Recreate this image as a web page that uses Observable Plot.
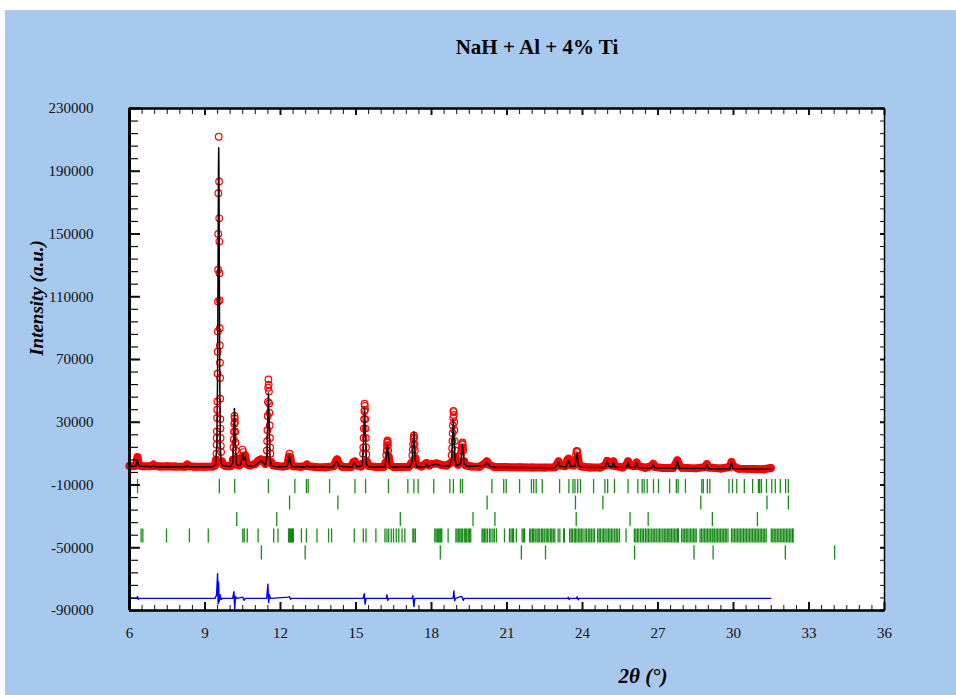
<!DOCTYPE html>
<html>
<head>
<meta charset="utf-8">
<script src="https://cdn.jsdelivr.net/npm/d3@7"></script>
<script src="https://cdn.jsdelivr.net/npm/@observablehq/plot@0.6"></script>
<style>
  html, body { margin: 0; padding: 0; background: #ffffff; }
  #wrap { position: relative; width: 956px; height: 695px; overflow: hidden; }
  #chart { position: absolute; left: 0; top: 0; }
  .lbl { position: absolute; font-family: "Liberation Serif", "DejaVu Serif", serif; color: #000; white-space: nowrap; line-height: 1; }
  #title { left: 537px; top: 37px; transform: translateX(-50%); font-weight: bold; font-size: 21px; }
  #ylab { left: 36px; top: 298px; transform: translate(-50%, -50%) rotate(-90deg); font-weight: bold; font-style: italic; font-size: 19px; }
  #xlab { left: 643px; top: 676px; transform: translate(-50%, -50%); font-weight: bold; font-style: italic; font-size: 21px; }
  #wtop { position: absolute; left: 0; top: 0; width: 956px; height: 10px; background: #fff; }
  #wleft { position: absolute; left: 0; top: 0; width: 5px; height: 695px; background: #fff; }
</style>
</head>
<body>
<div id="wrap">
  <div id="chart"></div>
  <div id="wtop"></div>
  <div id="wleft"></div>
  <div class="lbl" id="title">NaH + Al + 4% Ti</div>
  <div class="lbl" id="ylab">Intensity (a.u.)</div>
  <div class="lbl" id="xlab">2θ (°)</div>
</div>
<script>
// ---------- axis ticks ----------
const xTickLabels = [6, 9, 12, 15, 18, 21, 24, 27, 30, 33, 36];
const yTickLabels = [230000, 190000, 150000, 110000, 70000, 30000, -10000, -50000, -90000];

// ---------- observed profile [2θ, counts] ----------
const observed = [
  [6.0,2200],[6.1,2000],[6.2,2100],[6.26,3000],[6.29,5500],[6.32,7800],[6.35,5000],[6.39,2500],
  [6.5,2000],[6.8,1900],[6.92,2400],[6.95,3000],[6.98,2200],[7.2,1800],[7.5,2000],[7.8,1800],
  [8.2,1700],[8.27,2600],[8.3,3000],[8.34,1900],[8.6,1700],[9.0,1700],[9.3,1800],[9.4,2500],
  [9.44,6000],[9.455,10000],[9.46,15700],[9.465,20000],[9.47,24200],[9.48,32700],[9.485,38000],
  [9.49,43300],[9.5,61000],[9.505,75000],[9.51,87900],[9.515,107000],[9.52,127200],[9.525,150000],
  [9.53,176000],[9.545,212000],[9.56,183500],[9.565,160000],[9.57,145200],[9.575,125000],
  [9.58,107700],[9.585,90000],[9.59,79000],[9.595,68000],[9.6,58200],[9.605,45000],[9.61,32000],
  [9.615,26000],[9.62,20000],[9.63,15000],[9.64,11000],[9.67,5000],[9.72,3000],
  [9.8,2200],[9.9,2000],[10.0,2000],[10.08,2600],[10.11,6000],[10.13,14000],[10.14,19000],
  [10.15,24000],[10.16,29000],[10.17,34000],[10.18,32500],[10.19,30000],[10.2,24000],[10.21,17000],
  [10.22,12000],[10.24,7000],[10.28,3000],[10.35,2500],[10.42,3500],
  [10.46,7500],[10.49,12600],[10.52,11000],[10.55,7000],[10.58,9000],[10.6,8500],[10.63,5000],
  [10.68,3000],[10.8,2500],[11.0,3500],[11.12,5500],[11.22,6300],[11.32,5000],[11.4,3500],
  [11.44,6000],[11.46,12000],[11.47,18000],[11.48,25000],[11.49,34000],[11.5,43000],[11.51,52000],
  [11.52,57300],[11.53,54000],[11.54,49600],[11.55,42000],[11.56,36000],[11.57,28000],
  [11.58,20000],[11.59,14000],[11.6,10000],[11.63,4500],[11.7,2600],[11.9,2000],[12.1,1800],[12.25,2200],
  [12.3,4500],[12.33,8000],[12.36,10000],[12.39,7500],[12.43,3500],[12.5,2000],[12.8,1600],
  [13.0,2200],[13.05,3000],[13.1,2000],[13.4,1500],[13.8,1300],[14.1,2000],[14.2,5000],
  [14.25,6300],[14.32,3500],[14.45,1600],[14.8,1500],[14.9,4500],[14.95,5000],[15.02,2500],
  [15.2,1800],[15.25,3500],[15.28,10000],[15.29,14000],[15.3,20000],[15.31,26000],[15.32,32000],
  [15.33,37000],[15.34,41800],[15.35,40500],[15.36,38000],[15.37,32000],[15.38,26000],[15.39,20000],
  [15.4,14000],[15.41,9500],[15.43,5000],[15.5,2200],[15.8,1500],[16.1,1600],[16.17,4000],
  [16.2,9000],[16.22,12000],[16.23,15000],[16.24,17000],[16.25,18400],[16.26,17500],[16.27,15500],
  [16.28,12000],[16.3,8000],[16.34,3000],[16.5,1500],
  [16.8,1400],[17.1,1600],[17.2,4000],[17.24,9000],[17.26,12500],[17.27,16000],[17.29,19500],
  [17.3,21600],[17.31,20500],[17.33,16000],[17.34,12000],
  [17.36,7000],[17.4,3000],[17.6,1800],[17.8,4000],[17.9,2500],[18.0,3300],[18.2,3800],
  [18.4,2800],[18.6,2400],[18.75,4000],[18.8,9000],[18.82,13500],[18.83,18000],[18.84,23000],
  [18.85,28000],[18.86,33000],[18.87,37300],[18.88,36500],[18.89,34700],[18.9,30000],[18.91,25000],
  [18.92,18000],[18.94,12000],[18.95,8000],[18.97,5000],[19.05,3000],[19.12,4000],[19.17,9000],
  [19.19,11500],[19.2,14000],[19.22,16000],[19.23,17100],[19.24,16000],[19.25,14000],[19.26,12000],
  [19.3,5000],[19.36,2500],[19.6,1800],[19.9,1700],
  [20.1,3500],[20.2,5000],[20.28,3000],[20.5,1500],[21.0,1400],[21.5,1300],[22.0,1200],
  [22.5,1100],[22.9,1300],[23.0,3500],[23.05,5000],[23.1,2500],[23.3,2000],[23.4,6000],
  [23.44,6700],[23.5,2800],[23.65,2500],[23.72,6000],[23.74,9000],[23.76,11400],[23.78,11800],
  [23.8,11000],[23.82,8000],[23.85,4000],
  [23.95,1800],[24.3,1200],[24.7,1100],[24.9,2500],[24.98,5400],[25.05,3500],[25.15,2500],
  [25.23,5000],[25.3,2000],[25.6,1200],[25.75,3000],[25.81,5000],[25.87,2500],[26.05,2000],
  [26.15,4300],[26.22,2000],[26.5,1000],[26.75,2200],[26.81,3500],[26.88,1500],[27.2,800],
  [27.6,900],[27.7,3500],[27.77,5700],[27.83,3000],[27.95,1000],[28.5,600],[28.88,1500],
  [28.94,3300],[29.0,1200],[29.5,500],[29.85,1500],[29.92,4600],[29.99,2000],[30.2,400],
  [30.8,200],[31.2,0],[31.48,800]
];

// ---------- calculated profile [2θ, counts] ----------
const calculated = [
  [6.0,1800],[6.25,2000],[6.3,4500],[6.32,5500],[6.34,4000],[6.4,1900],[6.9,1700],[6.95,2500],
  [7.0,1700],[8.25,1600],[8.3,2500],[8.35,1600],[9.3,1600],[9.42,3000],[9.47,15000],[9.5,60000],
  [9.52,130000],[9.535,190000],[9.545,205000],[9.555,185000],[9.57,120000],[9.59,50000],
  [9.61,15000],[9.64,4000],[9.7,2200],[10.0,1700],[10.1,4000],[10.14,20000],[10.17,38700],
  [10.2,18000],[10.24,4000],[10.3,2000],[10.42,3000],[10.47,8000],[10.5,10000],[10.53,6000],
  [10.57,7000],[10.6,8000],[10.63,3500],[10.7,2000],[11.0,2500],[11.15,4500],[11.22,5500],
  [11.3,4500],[11.4,2500],[11.46,8000],[11.49,30000],[11.52,48600],[11.55,30000],[11.58,8000],
  [11.62,2500],[11.8,1600],[12.25,1800],[12.3,4000],[12.35,8500],[12.4,4000],[12.45,1800],
  [13.0,1400],[13.05,2500],[13.1,1400],[14.1,1500],[14.2,4500],[14.25,5000],[14.32,2000],
  [14.85,1400],[14.92,4200],[14.97,3500],[15.03,1500],[15.25,2500],[15.3,18000],[15.34,39000],
  [15.38,18000],[15.42,3000],[15.5,1500],[16.15,1500],[16.2,7000],[16.25,15700],[16.3,7000],
  [16.35,1500],[17.15,1400],[17.23,5000],[17.3,24000],[17.36,5000],[17.42,1500],[17.75,1600],
  [17.8,3500],[17.85,1600],[18.0,2800],[18.2,3200],[18.4,2300],[18.7,2000],[18.8,6000],
  [18.87,31600],[18.93,6000],[19.0,2300],[19.15,3500],[19.23,15600],[19.3,3500],[19.4,1800],
  [20.1,2500],[20.2,4200],[20.3,2000],[20.6,1200],[22.9,1000],[23.0,3000],[23.05,4500],
  [23.1,2000],[23.35,1500],[23.44,6000],[23.52,2000],[23.7,2000],[23.78,10300],[23.84,2500],
  [23.95,1300],[24.9,1200],[24.98,5000],[25.05,1800],[25.18,1500],[25.23,4500],[25.3,1300],
  [25.75,1200],[25.81,4500],[25.87,1200],[26.1,1200],[26.15,4000],[26.22,1000],[26.75,900],
  [26.81,3200],[26.87,800],[27.7,700],[27.77,5300],[27.84,700],[28.88,500],[28.94,3000],
  [29.0,400],[29.85,400],[29.92,4300],[29.99,300],[31.48,0]
];

// ---------- difference curve (offset) [2θ, counts] ----------
const difference = [
  [6.0,-82300],[6.3,-82300],[6.32,-81000],[6.35,-82800],[6.4,-82300],[9.4,-82300],[9.46,-80000],
  [9.5,-66500],[9.52,-85800],[9.54,-72000],[9.56,-84500],[9.6,-80000],[9.64,-83000],[9.7,-82300],
  [10.1,-82300],[10.15,-78000],[10.18,-89000],[10.21,-81000],[10.26,-82300],[10.5,-81500],
  [10.55,-83500],[10.6,-82300],[11.45,-82300],[11.5,-73300],[11.53,-85000],[11.56,-80000],
  [11.6,-82300],[12.33,-81500],[12.36,-81200],[12.4,-82800],[12.45,-82300],[15.28,-82300],
  [15.33,-79300],[15.36,-86000],[15.4,-82300],[16.2,-82300],[16.23,-80000],[16.26,-83600],
  [16.3,-82300],[17.23,-82300],[17.26,-80500],[17.3,-87500],[17.34,-82300],[18.84,-82300],
  [18.87,-81000],[18.89,-77500],[18.92,-83800],[18.95,-82300],[19.18,-81000],[19.22,-81600],
  [19.26,-83500],[19.3,-82300],[23.4,-82300],[23.44,-81600],[23.47,-83000],[23.5,-82300],
  [23.76,-82300],[23.79,-81300],[23.83,-83200],[23.86,-82300],[31.48,-82300]
];

// ---------- Bragg reflection positions (2θ), one array per phase ----------
const phase1 = [6.32,9.57,10.18,11.52,12.57,13.03,13.1,13.95,14.96,15.38,16.29,17.06,17.3,17.47,
  18.09,18.73,18.87,19.15,19.23,20.4,20.87,20.97,21.5,21.97,22.06,22.16,22.4,23.09,23.46,23.62,
  23.7,23.81,23.92,24.44,24.89,25.0,25.27,25.81,26.2,26.37,26.45,26.57,26.82,27.02,27.46,27.73,
  27.8,28.09,28.74,28.8,28.96,29.06,29.82,29.96,30.13,30.43,30.76,30.99,31.04,31.11,31.31,31.52,
  31.66,31.86,32.07,32.18];
const phase2 = [12.36,14.28,20.21,23.72,24.81,28.7,31.33,32.18];
const phase3 = [10.26,11.85,16.76,19.65,20.52,23.75,25.89,26.61,29.16,30.95];
const phase4 = [6.46,6.53,7.47,8.38,9.13,10.5,10.56,10.68,11.11,11.73,11.9,12.32,12.36,12.4,12.44,
  12.48,12.51,12.83,13.03,13.45,13.91,14.03,14.93,15.29,15.4,15.79,16.15,16.23,16.3,16.4,16.49,
  16.6,16.7,16.83,16.94,17.26,17.3,17.36,18.13,18.18,18.23,18.28,18.33,18.37,18.41,18.66,18.97,
  19.02,19.08,19.13,19.18,19.23,19.3,19.35,19.4,19.46,19.51,19.56,20.01,20.05,20.1,20.16,20.22,
  20.3,20.36,20.44,20.5,20.58,20.9,21.1,21.16,21.22,21.26,21.37,21.6,21.66,21.7,
  21.9,21.95,22.01,22.06,22.12,22.19,22.24,22.3,22.37,22.42,22.48,22.55,22.6,22.66,22.73,22.78,
  22.84,22.9,23.03,23.1,23.25,23.28,23.49,23.55,23.6,23.67,23.72,23.78,23.85,23.9,23.96,24.02,
  24.1,24.16,24.23,24.29,24.35,24.42,24.48,24.6,24.66,24.71,24.78,24.84,24.9,24.97,25.03,25.09,
  25.15,25.21,25.28,25.34,25.4,25.47,25.73,26.06,26.12,26.18,26.24,26.31,26.37,26.43,26.5,26.56,
  26.62,26.68,26.75,26.81,26.87,26.93,27.0,27.06,27.12,27.19,27.25,27.31,27.37,27.43,27.48,
  27.54,27.6,27.66,27.72,27.78,27.81,27.94,28.0,28.06,28.12,28.16,28.23,28.29,28.35,28.41,28.47,
  28.52,28.67,28.73,28.79,28.85,28.91,28.97,29.03,29.09,29.15,29.19,29.25,29.31,29.37,29.43,
  29.49,29.55,29.61,29.67,29.71,29.78,29.92,29.98,30.04,30.1,30.16,30.22,30.28,30.34,30.4,30.46,
  30.52,30.58,30.64,30.7,30.76,30.82,30.88,30.94,31.0,31.06,31.12,31.18,31.24,31.3,31.5,31.56,
  31.62,31.68,31.74,31.8,31.86,31.92,31.98,32.04,32.1,32.16,32.22,32.28,32.34,32.37];
const phase5 = [11.24,12.98,18.35,21.57,22.53,26.07,28.43,29.19,32.06,34.02];
const phaseRowY = [-11000, -21500, -32000, -42500, -53300];
const tickHalf = 4500;

// ---------- build ----------
const phases = [phase1, phase2, phase3, phase4, phase5];
const bragg = phases.flatMap((arr, i) => arr.map(x => ({x, row: i})));

const xMinor = d3.range(6, 36.001, 0.5);
const yMinor = d3.range(-90000, 230001, 8000);

const font = '"Liberation Serif", "DejaVu Serif", serif';

const plot = Plot.plot({
  width: 956,
  height: 695,
  marginLeft: 129,
  marginRight: 72,
  marginTop: 108,
  marginBottom: 85,
  style: { background: "#a7c9ee", fontFamily: font, fontSize: "15px", color: "#111", overflow: "visible" },
  x: { domain: [6, 36] },
  y: { domain: [-90000, 230000] },
  marks: [
    Plot.frame({ fill: "white", stroke: "none" }),
    // Bragg ticks
    Plot.ruleX(bragg, {
      x: "x",
      y1: d => phaseRowY[d.row] - tickHalf,
      y2: d => phaseRowY[d.row] + tickHalf,
      stroke: "#008000",
      strokeWidth: 1.3,
      strokeOpacity: 0.9
    }),
    // observed: thick band along the base
    Plot.line(observed, {
      x: d => d[0],
      y: d => (d[1] < 9000 ? d[1] : NaN),
      stroke: "#ff0000",
      strokeWidth: 8,
      strokeLinejoin: "round",
      strokeLinecap: "round"
    }),
    // observed: circles
    Plot.dot(observed, { x: d => d[0], y: d => d[1], r: 3.3, stroke: "#ff0000", strokeWidth: 1.2, fill: "none" }),
    // calculated
    Plot.line(calculated, { x: d => d[0], y: d => d[1], stroke: "#000", strokeWidth: 1.5 }),
    // difference
    Plot.line(difference, { x: d => d[0], y: d => d[1], stroke: "#0000ff", strokeWidth: 1.4 }),
    // axes: labels
    Plot.axisY(yTickLabels, { anchor: "left", tickSize: 0, tickPadding: 36, tickFormat: d => String(d), fontSize: 15, label: null }),
    Plot.axisX(xTickLabels, { anchor: "bottom", tickSize: 0, tickPadding: 17, tickFormat: d => String(d), fontSize: 15, label: null }),
    // inward ticks
    Plot.axisY(yMinor, { anchor: "left", tickSize: -9, text: null, label: null, strokeWidth: 1.2 }),
    Plot.axisY(yTickLabels, { anchor: "left", tickSize: -11, text: null, label: null, strokeWidth: 2 }),
    Plot.axisY(yMinor, { anchor: "right", tickSize: -5, text: null, label: null, strokeWidth: 1 }),
    Plot.axisY(yTickLabels, { anchor: "right", tickSize: -5, text: null, label: null, strokeWidth: 2 }),
    Plot.axisX(xMinor, { anchor: "bottom", tickSize: -5, text: null, label: null, strokeWidth: 1 }),
    Plot.axisX(xTickLabels, { anchor: "bottom", tickSize: -8, text: null, label: null, strokeWidth: 2 }),
    Plot.axisX(xMinor, { anchor: "top", tickSize: -5, text: null, label: null, strokeWidth: 1 }),
    Plot.axisX(xTickLabels, { anchor: "top", tickSize: -6, text: null, label: null, strokeWidth: 2 }),
    // frame lines
    Plot.ruleX([6], { stroke: "#000", strokeWidth: 3 }),
    Plot.ruleX([36], { stroke: "#000", strokeWidth: 1.5 }),
    Plot.ruleY([-90000], { stroke: "#000", strokeWidth: 2.5 }),
    Plot.ruleY([230000], { stroke: "#000", strokeWidth: 2.5 })
  ]
});
document.getElementById("chart").appendChild(plot);
</script>
</body>
</html>
